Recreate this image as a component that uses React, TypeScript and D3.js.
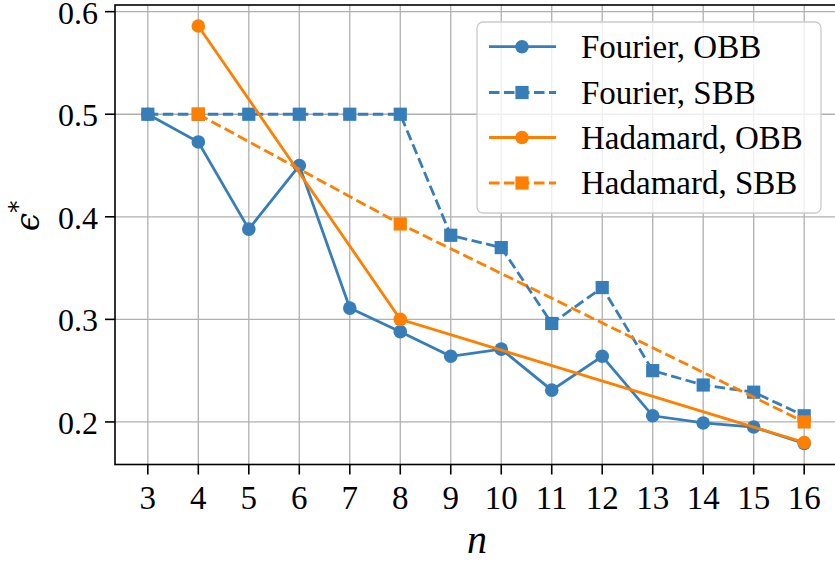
import { useEffect, useRef } from "react"
import * as d3 from "d3"

const nFourier = [3, 4, 5, 6, 7, 8, 9, 10, 11, 12, 13, 14, 15, 16]
const fourierOBB = [0.5, 0.473, 0.388, 0.45, 0.311, 0.288, 0.264, 0.271, 0.231, 0.264, 0.206, 0.199, 0.195, 0.179]
const fourierSBB = [0.5, 0.5, 0.5, 0.5, 0.5, 0.5, 0.382, 0.37, 0.296, 0.331, 0.25, 0.236, 0.229, 0.206]
const nHadamard = [4, 8, 16]
const hadamardOBB = [0.586, 0.3, 0.18]
const hadamardSBB = [0.5, 0.393, 0.2]
const xTicks = [3, 4, 5, 6, 7, 8, 9, 10, 11, 12, 13, 14, 15, 16]
const yTicks = [0.2, 0.3, 0.4, 0.5, 0.6]

const BLUE = "#377eb8"
const ORANGE = "#ff7f00"
const FONT = "'Liberation Serif', 'DejaVu Serif', serif"

const series = [
  { label: "Fourier, OBB", xs: nFourier, ys: fourierOBB, color: BLUE, dashed: false, marker: "circle" },
  { label: "Fourier, SBB", xs: nFourier, ys: fourierSBB, color: BLUE, dashed: true, marker: "square" },
  { label: "Hadamard, OBB", xs: nHadamard, ys: hadamardOBB, color: ORANGE, dashed: false, marker: "circle" },
  { label: "Hadamard, SBB", xs: nHadamard, ys: hadamardSBB, color: ORANGE, dashed: true, marker: "square" },
]

const W = 835
const H = 562

export default function App() {
  const svgRef = useRef<SVGSVGElement>(null)

  useEffect(() => {
    const svg = d3.select(svgRef.current)
    svg.selectAll("*").remove()

    const left = 115, right = 837, top = 5, bottom = 464.5
    const x = d3.scaleLinear().domain([2.35, 16.65]).range([left, right])
    const y = d3.scaleLinear().domain([0.1585, 0.6065]).range([bottom, top])

    const defs = svg.append("defs")
    defs.append("clipPath").attr("id", "plotclip")
      .append("rect").attr("x", left).attr("y", top).attr("width", right - left).attr("height", bottom - top)

    // grid
    const grid = svg.append("g")
    xTicks.forEach((t) => {
      grid.append("line").attr("x1", x(t)).attr("x2", x(t)).attr("y1", top).attr("y2", bottom)
        .attr("stroke", "#b0b0b0").attr("stroke-width", 1.3)
    })
    yTicks.forEach((t) => {
      grid.append("line").attr("x1", left).attr("x2", right).attr("y1", y(t)).attr("y2", y(t))
        .attr("stroke", "#b0b0b0").attr("stroke-width", 1.3)
    })

    // series
    const plot = svg.append("g").attr("clip-path", "url(#plotclip)")
    series.forEach((s) => {
      const pts = s.xs.map((v, i) => [v, s.ys[i]] as [number, number])
      const line = d3.line<[number, number]>().x((d) => x(d[0])).y((d) => y(d[1]))
      plot.append("path")
        .attr("d", line(pts))
        .attr("fill", "none")
        .attr("stroke", s.color)
        .attr("stroke-width", 2.8)
        .attr("stroke-dasharray", s.dashed ? "10.5,4.5" : null)
      pts.forEach((p) => {
        if (s.marker === "circle") {
          plot.append("circle").attr("cx", x(p[0])).attr("cy", y(p[1])).attr("r", 6.8).attr("fill", s.color)
        } else {
          plot.append("rect").attr("x", x(p[0]) - 6.6).attr("y", y(p[1]) - 6.6)
            .attr("width", 13.2).attr("height", 13.2).attr("fill", s.color)
        }
      })
    })

    // axes spines
    svg.append("rect").attr("x", left).attr("y", top).attr("width", right - left).attr("height", bottom - top)
      .attr("fill", "none").attr("stroke", "#000").attr("stroke-width", 1.6)

    // ticks
    xTicks.forEach((t) => {
      svg.append("line").attr("x1", x(t)).attr("x2", x(t)).attr("y1", bottom).attr("y2", bottom + 10)
        .attr("stroke", "#000").attr("stroke-width", 1.6)
      svg.append("text").attr("x", x(t)).attr("y", 509).attr("text-anchor", "middle")
        .style("font-family", FONT).style("font-size", "33px").text(String(t))
    })
    yTicks.forEach((t) => {
      svg.append("line").attr("x1", left - 10).attr("x2", left).attr("y1", y(t)).attr("y2", y(t))
        .attr("stroke", "#000").attr("stroke-width", 1.6)
      svg.append("text").attr("x", 98).attr("y", y(t) + 12).attr("text-anchor", "end")
        .style("font-family", FONT).style("font-size", "32px").text(t.toFixed(1))
    })

    // axis labels
    svg.append("text").attr("x", 477).attr("y", 553).attr("text-anchor", "middle")
      .style("font-family", FONT).style("font-size", "40px").style("font-style", "italic").text("n")
    const yl = svg.append("text").attr("transform", "translate(39,216) rotate(-90)").attr("text-anchor", "middle")
      .style("font-family", "'DejaVu Serif', serif").style("font-size", "33px")
    yl.append("tspan").style("font-style", "italic").text("\u03f5")
    yl.append("tspan").attr("dy", -13).style("font-size", "24px").text("*")

    // legend
    const lg = svg.append("g")
    lg.append("rect").attr("x", 477).attr("y", 22).attr("width", 344).attr("height", 191).attr("rx", 6)
      .attr("fill", "#fff").attr("fill-opacity", 0.8).attr("stroke", "#cccccc").attr("stroke-width", 1.3)
    const rows = [46.7, 92.5, 137.5, 183]
    series.forEach((s, i) => {
      const cy = rows[i]
      lg.append("line").attr("x1", 489).attr("x2", 556).attr("y1", cy).attr("y2", cy)
        .attr("stroke", s.color).attr("stroke-width", 2.8).attr("stroke-dasharray", s.dashed ? "10.5,4.5" : null)
      if (s.marker === "circle") {
        lg.append("circle").attr("cx", 522).attr("cy", cy).attr("r", 6.8).attr("fill", s.color)
      } else {
        lg.append("rect").attr("x", 522 - 6.6).attr("y", cy - 6.6).attr("width", 13.2).attr("height", 13.2).attr("fill", s.color)
      }
      lg.append("text").attr("x", 581).attr("y", cy + 11).style("font-family", FONT).style("font-size", "33px").text(s.label)
    })
  }, [])

  return (
    <svg ref={svgRef} width={W} height={H} style={{ display: "block", position: "absolute", left: 0, top: 0 }}></svg>
  )
}
